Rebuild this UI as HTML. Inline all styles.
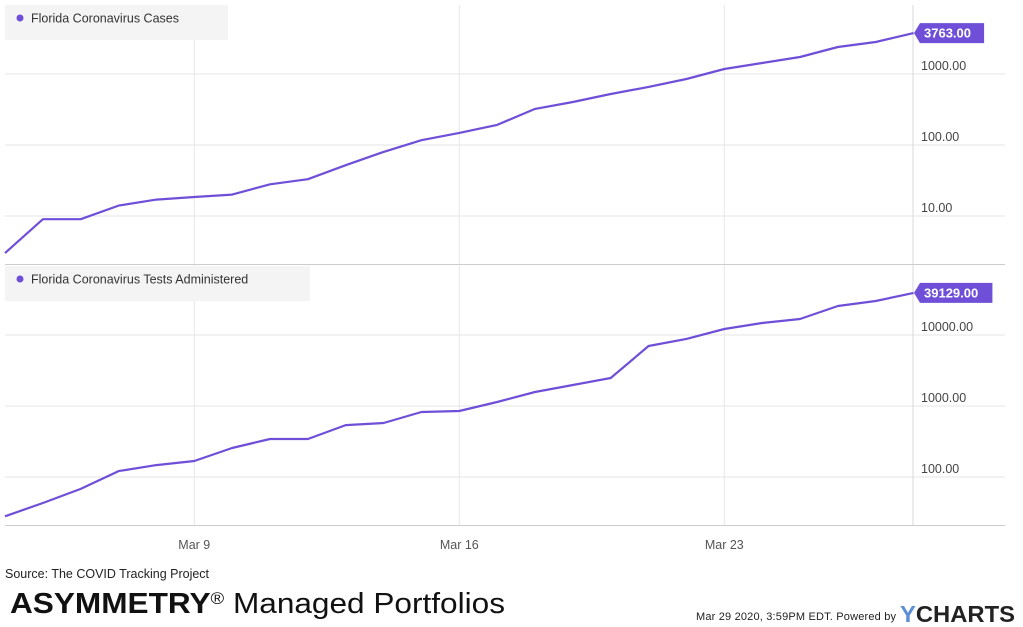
<!DOCTYPE html>
<html><head><meta charset="utf-8"><style>
body{margin:0;background:#fff;width:1023px;height:627px;overflow:hidden;font-family:"Liberation Sans",sans-serif}
</style></head><body>
<svg id="c" width="1023" height="627" style="position:absolute;left:0;top:0">
</svg>
<script>
const days=["Mar 4","Mar 5","Mar 6","Mar 7","Mar 8","Mar 9","Mar 10","Mar 11","Mar 12","Mar 13","Mar 14","Mar 15","Mar 16","Mar 17","Mar 18","Mar 19","Mar 20","Mar 21","Mar 22","Mar 23","Mar 24","Mar 25","Mar 26","Mar 27","Mar 28"];
const cases=[3,9,9,14,17,18.5,20,28,33,52,80,117,148,192,322,403,523,658,850,1176,1428,1735,2400,2822,3763];
const tests=[28,43,68,121,147,168,256,343,343,539,576,823,850,1139,1575,1975,2480,7000,8800,12150,14760,16800,25600,30100,39129];
const xTicks=["Mar 9","Mar 16","Mar 23"];
const casesTicks=[10,100,1000];
const testsTicks=[100,1000,10000];
const S=document.getElementById('c'),NS="http://www.w3.org/2000/svg";
function el(t,a,txt){const e=document.createElementNS(NS,t);for(const k in a)e.setAttribute(k,a[k]);if(txt!=null)e.textContent=txt;S.appendChild(e);return e;}
const x0=5,dx=(458-193)/7;
const X=i=>x0+i*dx;
const xi=l=>days.indexOf(l);
const ppd=71;
const Y1=v=>216-ppd*(Math.log10(v)-1);
const Y2=v=>477-ppd*(Math.log10(v)-2);
function panel(top,bot,ticks,Y,name){
  ticks.forEach(t=>{const y=Y(t);
    const g=el('line',{x1:5,x2:1005,y1:y,y2:y,stroke:'#e6e6e6'});
    
    const tx=el('text',{x:921,y:y-4,'font-size':12.5,fill:'#444'},t.toFixed(2));
    
  });
  xTicks.forEach(l=>{const x=X(xi(l));el('line',{x1:x,x2:x,y1:top,y2:bot,stroke:'#e6e6e6'});});
  el('line',{x1:913,x2:913,y1:top,y2:bot,stroke:'#d8d8d8'});
}
panel(5,264,casesTicks,Y1,'cases');
panel(265,525,testsTicks,Y2,'tests');
el('line',{x1:5,x2:1005,y1:264.5,y2:264.5,stroke:'#ccc'});
el('line',{x1:5,x2:1005,y1:525.5,y2:525.5,stroke:'#ccc'});
xTicks.forEach(l=>{const t=el('text',{x:X(xi(l)),y:549,'font-size':12.5,fill:'#555','text-anchor':'middle'},l);
});
function series(vals,Y,name,color){
  const d=vals.map((v,i)=>(i?'L':'M')+X(i).toFixed(1)+','+Y(v).toFixed(1)).join('');
  const p=el('path',{d:d,fill:'none',stroke:color,'stroke-width':2.2,'stroke-linejoin':'round'});
  
  const v=vals[vals.length-1],y=Y(v);
  const lbl=v.toFixed(2),w=lbl.length*8.3+6;
  const b=el('path',{d:`M914,${y} L920,${y-10} L${920+w},${y-10} L${920+w},${y+10} L920,${y+10}Z`,fill:color});
  
  el('text',{x:924,y:y+4.5,'font-size':13,'font-weight':'bold',fill:'#fff'},lbl);
}
series(cases,Y1,'cases','#6f4fd8');
series(tests,Y2,'tests','#6f4fd8');
function legend(y,w,txt,name){
  const r=el('rect',{x:5,y:y,width:w,height:35,fill:'#f4f4f4'});
  
  el('circle',{cx:20,cy:y+13,r:3.5,fill:'#6f4fd8'});
  el('text',{x:31,y:y+17.5,'font-size':12.5,fill:'#333'},txt);
}
legend(5,223,'Florida Coronavirus Cases','cases');
legend(266,305,'Florida Coronavirus Tests Administered','tests');
let t=el('text',{x:5,y:578,'font-size':12.5,fill:'#222'},'Source: The COVID Tracking Project');

t=el('text',{x:10,y:613,'font-size':29,fill:'#111',textLength:495,lengthAdjust:'spacingAndGlyphs'});

t.innerHTML='<tspan font-weight="bold">ASYMMETRY</tspan><tspan font-size="17" dy="-9">®</tspan><tspan dy="9"> Managed Portfolios</tspan>';
t=el('text',{x:696,y:620,'font-size':11,fill:'#222',textLength:200,lengthAdjust:'spacing'},'Mar 29 2020, 3:59PM EDT.  Powered by');

t=el('text',{x:900,y:622,'font-size':23,fill:'#222',textLength:115,lengthAdjust:'spacingAndGlyphs'});
t.innerHTML='<tspan fill="#5b8fd6" font-weight="bold">Y</tspan><tspan font-weight="bold">CHARTS</tspan>';

</script>
</body></html>
